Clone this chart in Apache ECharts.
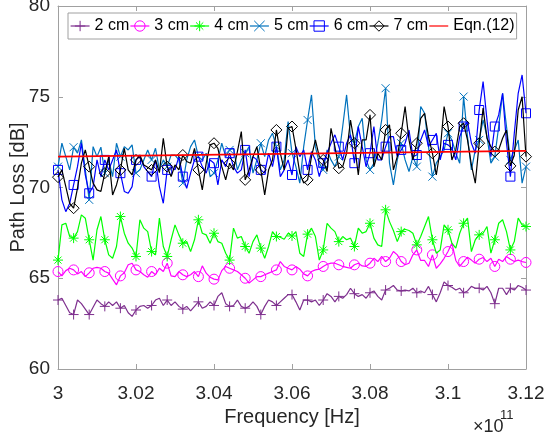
<!DOCTYPE html>
<html><head><meta charset="utf-8">
<script src="https://cdn.jsdelivr.net/npm/echarts@6/dist/echarts.min.js"></script>
<style>html,body{margin:0;padding:0;background:#fff}#c{width:545px;height:434px}</style>
</head><body><div id="c"></div>
<script>
// Frequency grid (GHz): 300 .. 312 in 0.1 GHz steps
const freqStartGHz = 300, freqStepGHz = 0.1, nPoints = 121;
const xTickLabels = ['3','3.02','3.04','3.06','3.08','3.1','3.12'];
const seriesNames = ['2 cm','3 cm','4 cm','5 cm','6 cm','7 cm','Eqn.(12)'];

const pl2cm = [63.8,63.9,63.5,63.1,63.0,63.8,63.6,63.3,63.0,63.4,
63.8,63.6,63.45,63.7,63.5,63.7,63.35,63.5,63.1,62.9,
63.25,63.45,63.5,63.35,63.5,63.8,63.9,63.5,63.8,63.5,
63.7,63.45,63.3,63.45,63.2,63.45,63.7,63.35,63.45,63.7,
63.5,64.0,64.2,63.6,63.45,63.5,63.8,63.45,63.35,63.45,
63.7,63.45,63.0,63.45,63.8,63.7,63.5,63.7,63.9,64.1,
64.1,63.7,63.25,63.8,63.8,63.7,63.8,63.5,63.8,64.15,
64.0,63.7,64.0,63.9,64.1,64.45,64.15,64.0,64.1,63.9,
64.2,64.3,64.0,63.8,64.35,64.45,64.6,64.35,64.3,64.35,
64.3,64.45,64.2,64.3,64.2,64.55,64.1,63.7,64.2,64.8,
64.6,64.5,64.35,64.45,64.2,64.3,64.55,64.45,64.45,64.35,
64.55,64.2,63.6,64.45,64.45,64.1,64.45,64.35,64.6,64.5,64.35];

const pl3cm = [65.37,65.13,65.42,65.55,65.46,65.24,65.37,65.09,65.3,65.55,
65.6,65.55,65.37,65.28,64.95,64.64,65.13,65.3,65.74,65.83,
65.46,65.37,65.19,65.06,65.37,65.19,65.55,65.37,65.83,65.13,
65.09,65.37,65.19,65.09,65.19,65.37,65.09,65.68,65.28,65.06,
64.95,64.91,65.42,65.65,65.55,65.46,65.37,65.19,65.0,64.73,
64.91,65.09,65.09,65.19,65.28,65.37,65.46,65.92,65.65,65.55,
65.46,65.65,65.5,65.24,65.13,65.37,65.46,65.5,65.65,65.77,
65.83,65.83,65.74,65.65,65.6,65.55,65.74,65.83,65.68,65.65,
65.83,66.1,65.92,66.2,65.92,66.1,66.47,66.29,65.92,65.74,
65.83,66.29,66.56,65.98,65.98,65.65,66.29,65.55,65.79,66.1,
66.47,66.93,65.98,65.65,65.92,66.16,66.0,65.83,66.05,66.14,
65.92,66.1,65.65,66.05,65.92,66.2,66.05,65.92,66.0,65.92,65.87];

const pl4cm = [66.0,67.94,68.03,67.3,67.21,67.57,68.49,68.31,67.12,66.0,
67.67,68.4,67.12,66.29,66.1,66.75,68.4,67.48,66.93,66.66,
66.2,68.22,67.76,67.57,66.47,66.29,68.31,66.75,66.2,67.12,
67.94,67.39,66.93,67.02,66.47,67.12,68.22,67.48,67.39,66.93,
67.48,67.02,66.93,66.38,66.0,67.76,67.21,67.3,66.75,66.38,
67.02,67.39,66.66,66.1,66.75,67.57,67.3,67.26,67.15,67.48,
67.33,67.57,66.38,66.2,67.43,67.76,67.3,66.0,66.56,68.03,
67.76,67.57,67.02,67.3,67.12,67.21,66.75,67.76,67.48,67.57,
68.03,67.21,66.84,66.75,68.77,68.12,67.63,67.02,67.57,67.7,
67.63,67.48,66.84,67.3,67.85,68.4,67.12,66.38,66.56,67.94,
67.67,66.93,66.66,67.48,68.03,68.31,66.47,67.12,67.39,67.48,
67.85,66.38,67.12,68.03,68.22,67.57,66.56,67.02,68.31,67.94,67.85];

const pl5cm = [71.15,72.44,71.7,70.97,72.22,71.89,72.62,70.97,69.32,72.25,
71.7,72.22,70.79,71.52,70.6,72.44,71.7,72.25,72.07,72.35,
70.79,70.97,71.52,72.07,71.52,72.16,70.97,71.52,71.15,71.79,
71.79,71.52,70.24,71.52,72.25,72.62,71.7,71.52,71.89,70.6,
70.79,71.52,72.44,71.7,72.07,72.16,70.97,71.52,71.89,72.25,
70.79,71.52,72.44,71.7,72.62,72.99,72.25,70.97,71.52,73.63,
71.89,71.15,70.24,72.25,73.72,75.1,72.25,71.34,70.97,72.07,
71.52,71.15,71.7,73.36,75.1,72.8,72.44,73.36,73.81,71.52,
70.97,71.34,72.44,73.72,75.47,71.34,70.14,71.52,72.44,71.52,
70.88,71.7,71.15,74.46,74.09,72.25,70.6,71.34,71.7,72.07,
72.99,72.62,71.89,71.34,75.01,72.8,70.97,72.07,72.62,73.72,
72.8,71.34,71.7,73.36,75.19,73.36,71.52,72.07,72.62,70.24,71.15];

const pl6cm = [70.97,69.32,68.67,69.13,70.14,71.15,72.44,70.69,69.68,70.05,
71.52,70.6,71.52,70.97,71.52,72.07,70.79,69.78,69.68,70.05,
71.52,71.7,71.15,70.88,70.6,71.52,70.05,69.13,70.97,71.15,
70.97,71.7,70.6,69.96,70.79,71.52,71.7,71.15,70.79,71.52,
71.34,70.14,71.52,71.15,71.89,71.15,70.79,70.97,72.07,70.6,
71.7,71.52,70.97,70.79,71.89,71.15,72.25,70.6,70.97,71.52,
70.69,72.25,71.7,72.07,70.97,71.98,71.52,70.6,71.34,71.89,
72.44,72.9,72.25,71.52,72.44,72.9,71.34,73.36,72.25,71.15,
71.89,73.36,71.52,71.52,72.25,72.8,72.8,71.7,72.07,72.44,
73.17,71.7,71.79,72.62,73.17,72.25,72.62,72.99,71.52,72.44,
72.35,72.16,71.52,72.8,73.36,73.63,72.44,71.89,74.27,75.83,
73.72,71.7,73.36,74.0,75.19,72.44,70.6,72.99,75.19,76.2,74.09];

const pl7cm = [70.57,70.97,70.05,69.13,68.86,69.96,71.34,72.07,71.15,70.24,
69.87,69.78,70.79,71.7,69.59,70.14,70.97,72.16,70.97,70.69,
71.52,71.79,71.24,71.12,70.97,71.52,70.82,72.71,71.15,70.6,
71.24,70.97,71.79,71.43,71.34,72.16,70.97,69.87,71.34,72.35,
72.44,72.16,71.15,70.42,71.34,70.97,71.98,73.08,70.42,70.97,
71.7,72.25,70.97,69.59,70.97,71.52,73.17,71.89,70.97,73.26,
73.36,72.16,70.79,70.24,70.42,71.7,72.62,71.7,71.52,70.88,
73.26,72.25,71.06,71.15,71.89,73.72,72.44,70.69,72.62,72.62,
74.0,71.15,71.89,71.52,73.17,73.45,70.97,71.7,72.99,74.46,
72.62,71.52,72.44,73.81,74.09,72.8,71.89,70.69,72.07,74.46,
73.36,71.52,72.07,73.36,73.54,72.62,71.24,70.24,72.44,74.37,
72.71,72.25,71.98,72.07,72.71,73.17,71.19,71.79,74.27,75.0,71.7];

// Eqn.(12) model line end points [GHz, dB]
const eqnFreq = [300, 312];
const eqnPL = [71.7, 72.02];

const colors = ['#7E2F8E','#FF00FF','#00FF00','#0072BD','#0000FF','#000000','#FF0000'];
const symbols = [
  'path://M5,0L5,10M0,5L10,5',
  'path://M0,5A5,5,0,1,1,10,5A5,5,0,1,1,0,5Z',
  'path://M5,0L5,10M0,5L10,5M1.5,1.5L8.5,8.5M1.5,8.5L8.5,1.5',
  'path://M0,0L10,10M0,10L10,0',
  'path://M0,0L10,0L10,10L0,10Z',
  'path://M5,0L10,5L5,10L0,5Z'
];
const symSizes = [10, 10, 10, 8, 9, 11];
const markerEvery = 4;

const freqs = [];
for (let i = 0; i < nPoints; i++) freqs.push(+(freqStartGHz + i * freqStepGHz).toFixed(2));

function buildData(vals) {
  return vals.map((v, i) => i % markerEvery === 0 ? [freqs[i], v] : {value: [freqs[i], v], symbol: 'none'});
}
const measured = [pl2cm, pl3cm, pl4cm, pl5cm, pl6cm, pl7cm];

const series = measured.map((vals, k) => ({
  name: seriesNames[k], type: 'line', data: buildData(vals),
  symbol: symbols[k], symbolSize: symSizes[k], showAllSymbol: true,
  lineStyle: {color: colors[k], width: 1.2},
  itemStyle: {color: 'rgba(0,0,0,0)', borderColor: colors[k], borderWidth: 1},
  emphasis: {disabled: true}, animation: false, z: 2 + k
}));
series.push({
  name: seriesNames[6], type: 'line', data: eqnFreq.map((f, i) => [f, eqnPL[i]]),
  symbol: 'none', lineStyle: {color: colors[6], width: 1.8},
  itemStyle: {color: 'rgba(0,0,0,0)', borderColor: 'rgba(0,0,0,0)', borderWidth: 0},
  emphasis: {disabled: true}, animation: false, z: 10
});

const axisCol = '#a0a0a0', txtCol = '#262626', ff = 'Liberation Sans, Arial, sans-serif';
const chart = echarts.init(document.getElementById('c'), null, {renderer: 'canvas'});
chart.setOption({
  animation: false,
  backgroundColor: '#fff',
  grid: {left: 58, right: 19, top: 6, bottom: 65, containLabel: false, outerBoundsMode: 'none'},
  legend: {
    left: 68, top: 13,
    padding: [5, 2, 5, 2], itemGap: 0.5, itemWidth: 19, itemHeight: 13,
    borderColor: '#a0a0a0', borderWidth: 1, backgroundColor: '#fff',
    textStyle: {fontSize: 16, color: '#000', fontFamily: ff},
    data: seriesNames.map((n, k) => ({
      name: n,
      lineStyle: {color: colors[k], width: 1.2},
      itemStyle: k < 6 ? {color: 'rgba(0,0,0,0)', borderColor: colors[k], borderWidth: 1}
                       : {color: 'rgba(0,0,0,0)', borderColor: 'rgba(0,0,0,0)', borderWidth: 0}
    }))
  },
  xAxis: [{
    type: 'value', min: 300, max: 312, interval: 2,
    axisLine: {show: true, onZero: false, lineStyle: {color: axisCol}},
    axisTick: {show: true, inside: true, length: 5, lineStyle: {color: axisCol}},
    axisLabel: {color: txtCol, fontSize: 19, fontFamily: ff, margin: 15,
      formatter: v => xTickLabels[Math.round((v - 300) / 2)]},
    splitLine: {show: false},
    name: 'Frequency [Hz]', nameLocation: 'middle', nameGap: 38, nameMoveOverlap: false,
    nameTextStyle: {fontSize: 20, color: txtCol, fontFamily: ff}
  }, {
    type: 'value', min: 300, max: 312, interval: 2, position: 'top',
    axisLine: {show: true, onZero: false, lineStyle: {color: axisCol}},
    axisTick: {show: true, inside: true, length: 5, lineStyle: {color: axisCol}},
    axisLabel: {show: false}, splitLine: {show: false}
  }],
  yAxis: [{
    type: 'value', min: 60, max: 80, interval: 5,
    axisLine: {show: true, onZero: false, lineStyle: {color: axisCol}},
    axisTick: {show: true, inside: true, length: 5, lineStyle: {color: axisCol}},
    axisLabel: {color: txtCol, fontSize: 19, fontFamily: ff, margin: 8},
    splitLine: {show: false},
    name: 'Path Loss [dB]', nameLocation: 'middle', nameGap: 30, nameMoveOverlap: false,
    nameTextStyle: {fontSize: 20, color: txtCol, fontFamily: ff}
  }, {
    type: 'value', min: 60, max: 80, interval: 5, position: 'right',
    axisLine: {show: true, onZero: false, lineStyle: {color: axisCol}},
    axisTick: {show: true, inside: true, length: 5, lineStyle: {color: axisCol}},
    axisLabel: {show: false}, splitLine: {show: false}
  }],
  graphic: [
    {type: 'text', left: 473, top: 418, silent: true,
     style: {text: '×10', fontSize: 18, fill: txtCol, fontFamily: ff}},
    {type: 'text', left: 500, top: 409, silent: true,
     style: {text: '11', fontSize: 13, fill: txtCol, fontFamily: ff}}
  ],
  series: series
});
</script></body></html>
